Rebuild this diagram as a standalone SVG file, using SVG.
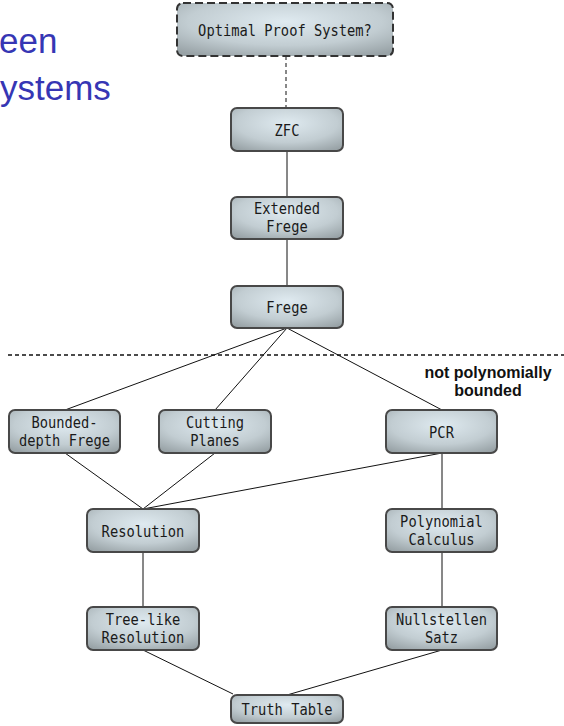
<svg xmlns="http://www.w3.org/2000/svg" width="564" height="726" viewBox="0 0 564 726">
  <defs>
    <radialGradient id="nodeFill" cx="50%" cy="35%" r="75%">
      <stop offset="0" stop-color="#dfeaf0"/>
      <stop offset="0.6" stop-color="#c2cdd2"/>
      <stop offset="1" stop-color="#98a2a6"/>
    </radialGradient>
  </defs>
  <style>
    .title { font-family: "Liberation Sans", Arial, sans-serif; font-size: 35px; fill: #3636b4; }
    .box { fill: url(#nodeFill); stroke: #484848; stroke-width: 2; }
    .box.dashed { stroke: #333; stroke-dasharray: 8 4; }
    .label { font-family: "DejaVu Sans Mono", "Liberation Mono", monospace; font-size: 16px; fill: #1a1a1a; text-anchor: middle; }
    .edge { stroke: #111; stroke-width: 1; fill: none; }
    .edge.dashed { stroke-dasharray: 4 3; }
    .note { font-family: "Liberation Sans", Arial, sans-serif; font-size: 16px; font-weight: bold; fill: #111; text-anchor: middle; }
  </style>

  <rect width="564" height="726" fill="#ffffff"/>

  <!-- slide title -->
  <text class="title" x="-1" y="53">een</text>
  <text class="title" x="0" y="100">ystems</text>

  <!-- boundary of polynomially bounded systems -->
  <line x1="8" y1="355" x2="564" y2="355" stroke="#111" stroke-width="1.3" stroke-dasharray="4 3"/>
  <text class="note" x="488" y="378">not polynomially</text>
  <text class="note" x="488" y="396">bounded</text>

  <g id="connectors">
    <line class="edge dashed" x1="286" y1="56" x2="286" y2="108"/>
    <line class="edge" x1="287" y1="151" x2="287" y2="197"/>
    <line class="edge" x1="287" y1="239" x2="287" y2="286"/>
    <line class="edge" x1="287" y1="328" x2="65" y2="410"/>
    <line class="edge" x1="287" y1="328" x2="215" y2="410"/>
    <line class="edge" x1="287" y1="328" x2="442" y2="410"/>
    <line class="edge" x1="143" y1="509" x2="65" y2="453"/>
    <line class="edge" x1="143" y1="509" x2="215" y2="453"/>
    <line class="edge" x1="143" y1="509" x2="442" y2="453"/>
    <line class="edge" x1="442" y1="453" x2="442" y2="509"/>
    <line class="edge" x1="442" y1="552" x2="442" y2="607"/>
    <line class="edge" x1="143" y1="552" x2="143" y2="607"/>
    <line class="edge" x1="143" y1="650" x2="233" y2="694"/>
    <line class="edge" x1="442" y1="650" x2="287" y2="695"/>
  </g>

  <!-- labels are narrowed horizontally: translate to the label anchor, then scale -->
  <g id="optimal">
    <rect class="box dashed" x="177" y="3" width="216" height="53" rx="6"/>
    <text class="label" transform="translate(285 35.5) scale(0.86 1)">Optimal Proof System?</text>
  </g>
  <g id="zfc">
    <rect class="box" x="231" y="108" width="112" height="43" rx="6"/>
    <text class="label" transform="translate(287 135.5) scale(0.86 1)">ZFC</text>
  </g>
  <g id="extended-frege">
    <rect class="box" x="231" y="197" width="112" height="42" rx="6"/>
    <text class="label" transform="translate(287 214) scale(0.86 1)">Extended</text>
    <text class="label" transform="translate(287 232) scale(0.86 1)">Frege</text>
  </g>
  <g id="frege">
    <rect class="box" x="231" y="286" width="112" height="42" rx="6"/>
    <text class="label" transform="translate(287 313) scale(0.86 1)">Frege</text>
  </g>
  <g id="bounded-depth-frege">
    <rect class="box" x="9" y="410" width="111" height="43" rx="6"/>
    <text class="label" transform="translate(64.5 427.5) scale(0.86 1)">Bounded-</text>
    <text class="label" transform="translate(64.5 445.5) scale(0.86 1)">depth Frege</text>
  </g>
  <g id="cutting-planes">
    <rect class="box" x="159" y="410" width="112" height="43" rx="6"/>
    <text class="label" transform="translate(215 427.5) scale(0.86 1)">Cutting</text>
    <text class="label" transform="translate(215 445.5) scale(0.86 1)">Planes</text>
  </g>
  <g id="pcr">
    <rect class="box" x="386" y="410" width="111" height="43" rx="6"/>
    <text class="label" transform="translate(441.5 437.5) scale(0.86 1)">PCR</text>
  </g>
  <g id="resolution">
    <rect class="box" x="87" y="509" width="112" height="43" rx="6"/>
    <text class="label" transform="translate(143 536.5) scale(0.86 1)">Resolution</text>
  </g>
  <g id="polynomial-calculus">
    <rect class="box" x="386" y="509" width="111" height="43" rx="6"/>
    <text class="label" transform="translate(441.5 526.5) scale(0.86 1)">Polynomial</text>
    <text class="label" transform="translate(441.5 544.5) scale(0.86 1)">Calculus</text>
  </g>
  <g id="tree-like-resolution">
    <rect class="box" x="87" y="607" width="112" height="43" rx="6"/>
    <text class="label" transform="translate(143 624.5) scale(0.86 1)">Tree-like</text>
    <text class="label" transform="translate(143 642.5) scale(0.86 1)">Resolution</text>
  </g>
  <g id="nullstellensatz">
    <rect class="box" x="386" y="607" width="111" height="43" rx="6"/>
    <text class="label" transform="translate(441.5 624.5) scale(0.86 1)">Nullstellen</text>
    <text class="label" transform="translate(441.5 642.5) scale(0.86 1)">Satz</text>
  </g>
  <g id="truth-table">
    <rect class="box" x="231" y="695" width="112" height="28" rx="6"/>
    <text class="label" transform="translate(287 715) scale(0.86 1)">Truth Table</text>
  </g>
</svg>
